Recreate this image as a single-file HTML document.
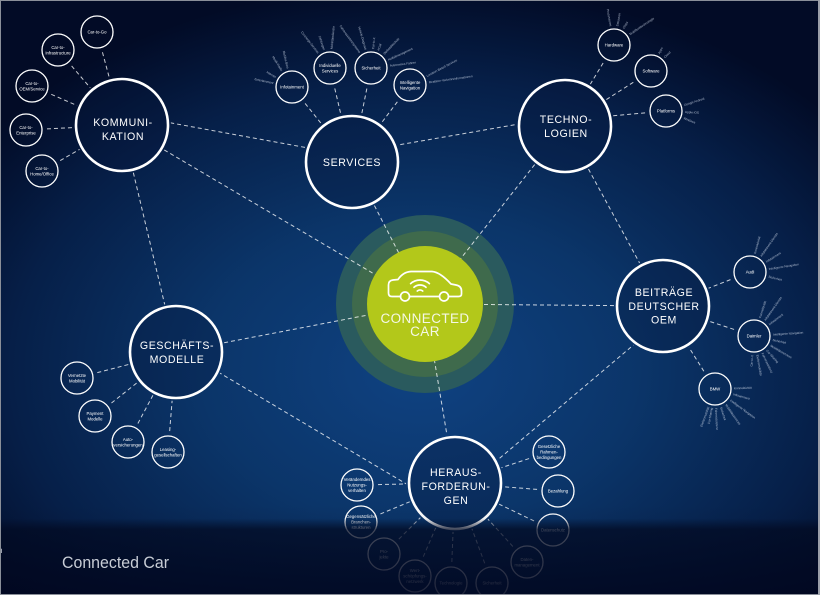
<!DOCTYPE html>
<html><head><meta charset="utf-8">
<style>html,body{margin:0;padding:0;background:#020b26;}svg{display:block}</style>
</head><body>
<svg width="820" height="595" viewBox="0 0 820 595" xmlns="http://www.w3.org/2000/svg" font-family="'Liberation Sans', sans-serif">
<defs>
<radialGradient id="bg" gradientUnits="userSpaceOnUse" cx="420" cy="370" r="420" gradientTransform="translate(420 370) scale(1.3 0.92) translate(-420 -370)">
<stop offset="0" stop-color="#0f4282"/>
<stop offset="0.4" stop-color="#0b3569"/>
<stop offset="0.75" stop-color="#061f48"/>
<stop offset="1" stop-color="#020b26"/>
</radialGradient>
<linearGradient id="fade" x1="0" y1="505" x2="0" y2="595" gradientUnits="userSpaceOnUse">
<stop offset="0" stop-color="#020a22" stop-opacity="0"/>
<stop offset="0.15" stop-color="#020a22" stop-opacity="0.05"/>
<stop offset="0.27" stop-color="#020a22" stop-opacity="0.75"/>
<stop offset="1" stop-color="#010720" stop-opacity="0.88"/>
</linearGradient>
<mask id="m" maskUnits="userSpaceOnUse" x="0" y="0" width="820" height="595">
<rect x="0" y="0" width="820" height="595" fill="#fff"/>
<g fill="#000">
<circle cx="122" cy="125" r="49"/><circle cx="352" cy="162" r="49"/><circle cx="565" cy="126" r="49"/>
<circle cx="663" cy="306" r="49"/><circle cx="176" cy="352" r="49"/><circle cx="455" cy="483" r="49"/>
<circle cx="97" cy="32" r="18.5"/><circle cx="58" cy="50" r="18.5"/><circle cx="32" cy="86" r="18.5"/><circle cx="26" cy="130" r="18.5"/><circle cx="42" cy="171" r="18.5"/>
<circle cx="292" cy="87" r="18.5"/><circle cx="330" cy="68" r="18.5"/><circle cx="371" cy="68" r="18.5"/><circle cx="410" cy="85" r="18.5"/>
<circle cx="614" cy="45" r="18.5"/><circle cx="651" cy="71" r="18.5"/><circle cx="666" cy="111" r="18.5"/>
<circle cx="750" cy="272" r="18.5"/><circle cx="754" cy="336" r="18.5"/><circle cx="715" cy="389" r="18.5"/>
<circle cx="77" cy="378" r="18.5"/><circle cx="95" cy="416" r="18.5"/><circle cx="128" cy="442" r="18.5"/><circle cx="168" cy="452" r="18.5"/>
<circle cx="357" cy="485" r="18.5"/><circle cx="361" cy="522" r="18.5"/><circle cx="549" cy="452" r="18.5"/><circle cx="558" cy="491" r="18.5"/><circle cx="553" cy="530" r="18.5"/>
<circle cx="384" cy="554" r="18.5"/><circle cx="415" cy="576" r="18.5"/><circle cx="451" cy="583" r="18.5"/><circle cx="492" cy="583" r="18.5"/><circle cx="527" cy="562" r="18.5"/>
</g>
</mask>
</defs>

<rect x="0" y="0" width="820" height="595" fill="#020b26"/>
<rect x="0" y="0" width="820" height="595" fill="url(#bg)"/>

<!-- center rings -->
<circle cx="425" cy="304" r="89" fill="#2a5a5e"/>
<circle cx="425" cy="304" r="73" fill="#3f6a4c"/>

<!-- connectors -->
<g mask="url(#m)" stroke="#fff" stroke-opacity="0.78" stroke-width="1" stroke-dasharray="4 3" fill="none">
<line x1="122" y1="114" x2="352" y2="156"/>
<line x1="352" y1="153" x2="565" y2="116"/>
<line x1="122" y1="125" x2="425" y2="304"/>
<line x1="352" y1="162" x2="425" y2="304"/>
<line x1="565" y1="126" x2="425" y2="304"/>
<line x1="565" y1="126" x2="663" y2="306"/>
<line x1="663" y1="306" x2="425" y2="304"/>
<line x1="176" y1="352" x2="425" y2="304"/>
<line x1="122" y1="125" x2="176" y2="352"/>
<line x1="176" y1="347" x2="430" y2="498"/>
<line x1="425" y1="304" x2="455" y2="483"/>
<line x1="663" y1="320" x2="468" y2="485"/>
<!-- K smalls -->
<line x1="97" y1="32" x2="122" y2="125"/><line x1="58" y1="50" x2="122" y2="125"/><line x1="32" y1="86" x2="122" y2="125"/><line x1="26" y1="130" x2="122" y2="125"/><line x1="42" y1="171" x2="122" y2="125"/>
<!-- S smalls -->
<line x1="292" y1="87" x2="352" y2="162"/><line x1="330" y1="68" x2="352" y2="162"/><line x1="371" y1="68" x2="352" y2="162"/><line x1="410" y1="85" x2="352" y2="162"/>
<!-- T smalls -->
<line x1="614" y1="45" x2="565" y2="126"/><line x1="651" y1="71" x2="565" y2="126"/><line x1="666" y1="111" x2="565" y2="120"/>
<!-- B smalls -->
<line x1="750" y1="272" x2="663" y2="306"/><line x1="754" y1="336" x2="663" y2="306"/><line x1="715" y1="389" x2="663" y2="306"/>
<!-- G smalls -->
<line x1="77" y1="378" x2="176" y2="352"/><line x1="95" y1="416" x2="176" y2="352"/><line x1="128" y1="442" x2="176" y2="352"/><line x1="168" y1="452" x2="176" y2="352"/>
<!-- H smalls -->
<line x1="357" y1="485" x2="455" y2="483"/><line x1="361" y1="522" x2="455" y2="483"/><line x1="549" y1="452" x2="455" y2="483"/><line x1="558" y1="491" x2="455" y2="483"/><line x1="553" y1="530" x2="455" y2="483"/>
<line x1="384" y1="554" x2="455" y2="483"/><line x1="415" y1="576" x2="455" y2="483"/><line x1="451" y1="583" x2="455" y2="483"/><line x1="492" y1="583" x2="455" y2="483"/><line x1="527" y1="562" x2="455" y2="483"/>
</g>

<!-- green center -->
<circle cx="425" cy="304" r="58" fill="#b3c81a"/>
<g fill="none" stroke="#fff" stroke-width="1.7" stroke-linejoin="round" stroke-linecap="round">
<path d="M400.5,296.5 H392 Q388.5,296.5 388.5,293 V285 Q388.5,280.5 393,280 L398,279.5 Q403,272 411,271.5 L432,271.5 Q440,272 451,284 L456,285 Q461.5,286 461.5,291 V294 Q461.5,296.5 458.5,296.5 H448.5"/>
<path d="M439.5,296.5 H409.5"/>
<circle cx="405" cy="296.5" r="4.5"/>
<circle cx="444" cy="296.5" r="4.5"/>
<path d="M417.3,291 A4,4 0 0 1 422.7,291"/>
<path d="M414,287.3 A9,9 0 0 1 426,287.3"/>
<path d="M410.6,283.6 A14,14 0 0 1 429.4,283.6"/>
</g>
<g fill="#f5f8e6" font-size="13.5" letter-spacing="0.4" text-anchor="middle">
<text x="425" y="323">CONNECTED</text>
<text x="425" y="336">CAR</text>
</g>

<!-- main circles -->
<g fill="#06183d" fill-opacity="0.3" stroke="#fff" stroke-width="2.6">
<circle cx="122" cy="125" r="46"/>
<circle cx="352" cy="162" r="46"/>
<circle cx="565" cy="126" r="46"/>
<circle cx="663" cy="306" r="46"/>
<circle cx="176" cy="352" r="46"/>
<circle cx="455" cy="483" r="46"/>
</g>
<g fill="#fff" font-size="10.6" letter-spacing="0.6" text-anchor="middle">
<text x="123" y="126">KOMMUNI-</text><text x="123" y="140">KATION</text>
<text x="352" y="166">SERVICES</text>
<text x="566" y="123">TECHNO-</text><text x="566" y="137">LOGIEN</text>
<text x="664" y="296">BEITRÄGE</text><text x="664" y="310">DEUTSCHER</text><text x="664" y="323.5">OEM</text>
<text x="177" y="349">GESCHÄFTS-</text><text x="177" y="363">MODELLE</text>
<text x="456" y="476">HERAUS-</text><text x="456" y="490">FORDERUN-</text><text x="456" y="504">GEN</text>
</g>

<!-- small circles -->
<g fill="none" stroke="#fff" stroke-width="1.3">
<circle cx="97" cy="32" r="16"/><circle cx="58" cy="50" r="16"/><circle cx="32" cy="86" r="16"/><circle cx="26" cy="130" r="16"/><circle cx="42" cy="171" r="16"/>
<circle cx="292" cy="87" r="16"/><circle cx="330" cy="68" r="16"/><circle cx="371" cy="68" r="16"/><circle cx="410" cy="85" r="16"/>
<circle cx="614" cy="45" r="16"/><circle cx="651" cy="71" r="16"/><circle cx="666" cy="111" r="16"/>
<circle cx="750" cy="272" r="16"/><circle cx="754" cy="336" r="16"/><circle cx="715" cy="389" r="16"/>
<circle cx="77" cy="378" r="16"/><circle cx="95" cy="416" r="16"/><circle cx="128" cy="442" r="16"/><circle cx="168" cy="452" r="16"/>
<circle cx="357" cy="485" r="16"/><circle cx="361" cy="522" r="16"/><circle cx="549" cy="452" r="16"/><circle cx="558" cy="491" r="16"/><circle cx="553" cy="530" r="16"/>
<circle cx="384" cy="554" r="16"/><circle cx="415" cy="576" r="16"/><circle cx="451" cy="583" r="16"/><circle cx="492" cy="583" r="16"/><circle cx="527" cy="562" r="16"/>
</g>
<g fill="#fff" font-size="4.3" text-anchor="middle">
<text x="97" y="33.6">Car-to-Go</text>
<text x="58" y="49">Car-to-</text><text x="58" y="54.5">Infrastructure</text>
<text x="32" y="85">Car-to-</text><text x="32" y="90.5">OEM/Service</text>
<text x="26" y="129">Car-to-</text><text x="26" y="134.5">Enterprise</text>
<text x="42" y="170">Car-to-</text><text x="42" y="175.5">Home/Office</text>
<text x="292" y="88.6">Infotainment</text>
<text x="330" y="67">Individuelle</text><text x="330" y="72.5">Services</text>
<text x="371" y="69.6">Sicherheit</text>
<text x="410" y="84">Intelligente</text><text x="410" y="89.5">Navigation</text>
<text x="614" y="46.6">Hardware</text>
<text x="651" y="72.6">Software</text>
<text x="666" y="112.6">Platforms</text>
<text x="750" y="273.6">Audi</text>
<text x="754" y="337.6">Daimler</text>
<text x="715" y="390.6">BMW</text>
<text x="77" y="377">Vernetzte</text><text x="77" y="382.5">Mobilität</text>
<text x="95" y="415">Payment</text><text x="95" y="420.5">Modelle</text>
<text x="128" y="441">Auto-</text><text x="128" y="446.5">versicherungen</text>
<text x="168" y="451">Leasing-</text><text x="168" y="456.5">gesellschaften</text>
<text x="357" y="481">Veränderndes</text><text x="357" y="486.5">Nutzungs-</text><text x="357" y="492">verhalten</text>
<text x="361" y="518">Gegensätzliche</text><text x="361" y="523.5">Branchen-</text><text x="361" y="529">strukturen</text>
<text x="549" y="448">Gesetzliche</text><text x="549" y="453.5">Rahmen-</text><text x="549" y="459">bedingungen</text>
<text x="558" y="492.6">Bezahlung</text>
<text x="553" y="531.6">Datenschutz</text>
<text x="384" y="553">Pro-</text><text x="384" y="558.5">jekte</text>
<text x="415" y="572">Wert-</text><text x="415" y="577.5">schöpfungs-</text><text x="415" y="583">netzwerk</text>
<text x="451" y="584.6">Technologie</text>
<text x="492" y="584.6">Sicherheit</text>
<text x="527" y="561">Daten-</text><text x="527" y="566.5">management</text>
</g>

<!-- ray labels -->
<g fill="#c9d3e4" fill-opacity="0.85" font-size="3.1">
<g transform="translate(292 87)">
<text transform="rotate(12)" x="-19" y="1" text-anchor="end">Entertainment</text>
<text transform="rotate(31)" x="-19" y="1" text-anchor="end">Internet</text>
<text transform="rotate(58)" x="-19" y="1" text-anchor="end">Musik-Radio</text>
<text transform="rotate(77)" x="-19" y="1" text-anchor="end">Mobiles Büro</text>
</g>
<g transform="translate(330 68)">
<text transform="rotate(52)" x="-19" y="1" text-anchor="end">Concierge-Services</text>
<text transform="rotate(72)" x="-19" y="1" text-anchor="end">Zahlungen</text>
<text transform="rotate(-85)" x="19" y="1">Mobilitätsdienste</text>
</g>
<g transform="translate(371 68)">
<text transform="rotate(54)" x="-19" y="1" text-anchor="end">Fahrerassistenzsysteme</text>
<text transform="rotate(74)" x="-19" y="1" text-anchor="end">Vehicle-Diagnose</text>
<text transform="rotate(-84)" x="19" y="1">Car-to-X</text>
<text transform="rotate(-68)" x="19" y="1">eCall</text>
<text transform="rotate(-47)" x="19" y="1">Diebstahlschutz</text>
<text transform="rotate(-25)" x="19" y="1">Notfallmanagement</text>
<text transform="rotate(-7)" x="19" y="1">Autonomes Fahren</text>
</g>
<g transform="translate(410 85)">
<text transform="rotate(-28)" x="19" y="1">Location Based Services</text>
<text transform="rotate(-8)" x="19" y="1">Realtime-Verkehrsinformationen</text>
</g>
<g transform="translate(614 45)">
<text transform="rotate(80)" x="-19" y="1" text-anchor="end">Prozessoren</text>
<text transform="rotate(-80)" x="19" y="1">Sensoren</text>
<text transform="rotate(-60)" x="19" y="1">Chips</text>
<text transform="rotate(-34)" x="19" y="1">Mobilfunktechnologie</text>
</g>
<g transform="translate(651 71)">
<text transform="rotate(-65)" x="19" y="1">Apps</text>
<text transform="rotate(-45)" x="19" y="1">Cloud</text>
</g>
<g transform="translate(666 111)">
<text transform="rotate(-18)" x="19" y="1">Google Android</text>
<text transform="rotate(3)" x="19" y="1">Apple iOS</text>
<text transform="rotate(22)" x="19" y="1">Windows</text>
</g>
<g transform="translate(750 272)">
<text transform="rotate(-75)" x="19" y="1">Konnektivität</text>
<text transform="rotate(-55)" x="19" y="1">Infotainment-Dienste</text>
<text transform="rotate(-32)" x="19" y="1">Infotainment</text>
<text transform="rotate(-9)" x="19" y="1">Intelligente Navigation</text>
<text transform="rotate(14)" x="19" y="1">Sicherheit</text>
</g>
<g transform="translate(754 336)">
<text transform="rotate(-72)" x="19" y="1">Konnektivität</text>
<text transform="rotate(-55)" x="19" y="1">Infotainment-Dienste</text>
<text transform="rotate(-37)" x="19" y="1">Infotainment</text>
<text transform="rotate(-4)" x="19" y="1">Intelligente Navigation</text>
<text transform="rotate(12)" x="19" y="1">Sicherheit</text>
<text transform="rotate(30)" x="19" y="1">Mobilitätsservices</text>
<text transform="rotate(48)" x="19" y="1">Car-Sharing</text>
<text transform="rotate(64)" x="19" y="1">Fahrerassistenz</text>
<text transform="rotate(80)" x="19" y="1">Elektromobilität</text>
<text transform="rotate(-85)" x="-19" y="1" text-anchor="end">Car-to-X</text>
</g>
<g transform="translate(715 389)">
<text transform="rotate(-2)" x="19" y="1">Konnektivität</text>
<text transform="rotate(16)" x="19" y="1">Infotainment</text>
<text transform="rotate(36)" x="19" y="1">Intelligente Navigation</text>
<text transform="rotate(55)" x="19" y="1">Mobilitätsservices</text>
<text transform="rotate(72)" x="19" y="1">Sicherheit</text>
<text transform="rotate(87)" x="19" y="1">Fahrerassistenz</text>
<text transform="rotate(-80)" x="-19" y="1" text-anchor="end">Car-Sharing</text>
<text transform="rotate(-70)" x="-19" y="1" text-anchor="end">Elektromobilität</text>
</g>
</g>

<!-- bottom fade -->
<rect x="0" y="505" width="820" height="90" fill="url(#fade)"/>

<!-- title -->
<text x="62" y="568" font-size="16.5" fill="#c8cdd6" textLength="107" lengthAdjust="spacingAndGlyphs">Connected Car</text>
<text x="-2" y="553" font-size="8" fill="#cfd3dc">n</text>

<!-- border -->
<rect x="0.5" y="0.5" width="819" height="594" fill="none" stroke="#8a8f99" stroke-width="1"/>
<rect x="818" y="0" width="2" height="595" fill="#9a9ea8"/>
</svg>
</body></html>
